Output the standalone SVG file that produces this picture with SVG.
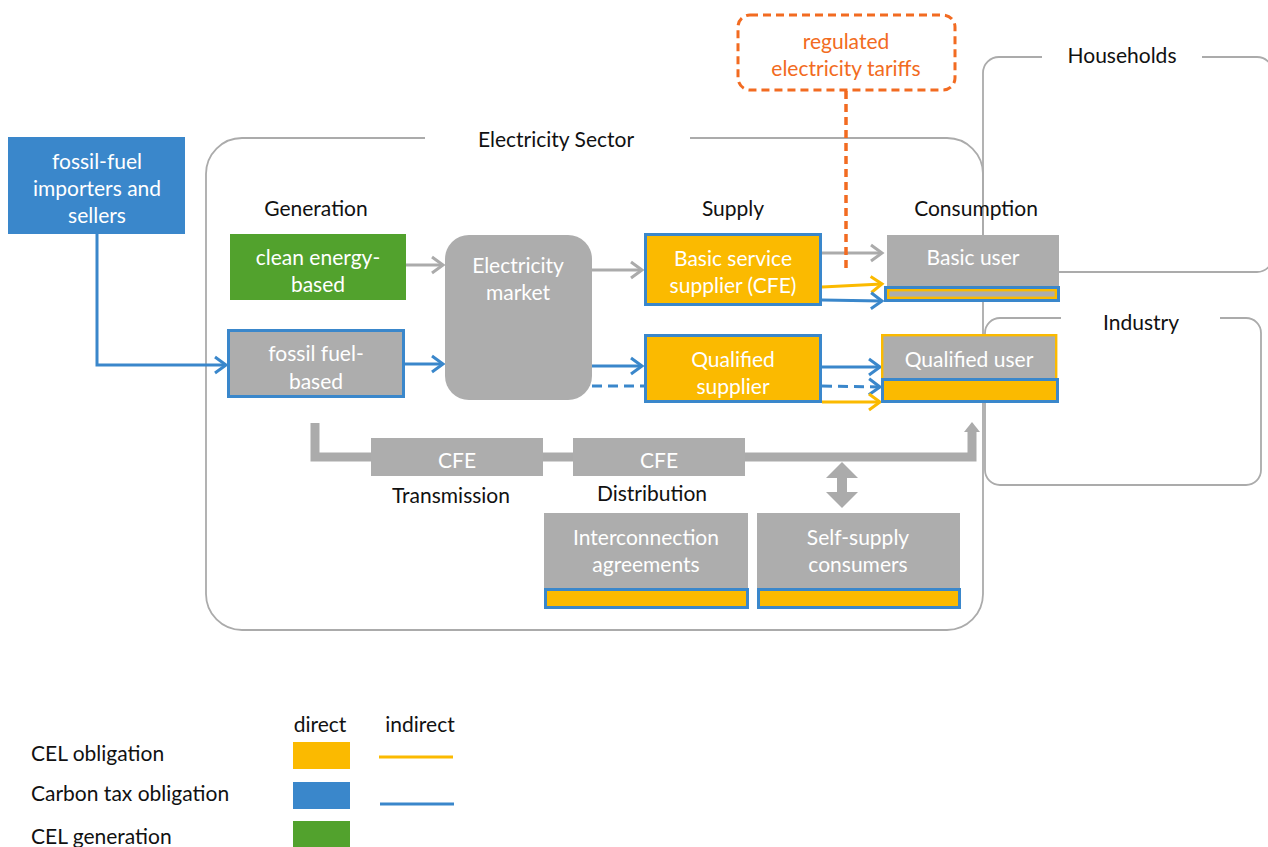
<svg xmlns="http://www.w3.org/2000/svg" width="1268" height="847" viewBox="0 0 1268 847">
<style>
text{font-family:Lato,"Liberation Sans",sans-serif;font-size:21px;text-anchor:middle;dominant-baseline:central}
.w{fill:#fff}
.k{fill:#111}
.o{fill:#F26B21}
.frame{fill:none;stroke:#ABABAB;stroke-width:1.8}
.gray{fill:#ADADAD}
.blueb{stroke:#3A87CB;stroke-width:3}
.yel{fill:#FBBA00}
.c{fill:none;stroke-width:3}
.cg{stroke:#ABABAB}
.cb{stroke:#3A87CB}
.cy{stroke:#FBBA00}
.lt{text-anchor:start}
</style>
<defs>
<marker id="ag" markerUnits="userSpaceOnUse" markerWidth="16" markerHeight="20" refX="13" refY="10" orient="auto"><path d="M2,2 L13,10 L2,18" fill="none" stroke="#ABABAB" stroke-width="3"/></marker>
<marker id="ab" markerUnits="userSpaceOnUse" markerWidth="16" markerHeight="20" refX="13" refY="10" orient="auto"><path d="M2,2 L13,10 L2,18" fill="none" stroke="#3A87CB" stroke-width="3"/></marker>
<marker id="ay" markerUnits="userSpaceOnUse" markerWidth="16" markerHeight="20" refX="13" refY="10" orient="auto"><path d="M2,2 L13,10 L2,18" fill="none" stroke="#FBBA00" stroke-width="3"/></marker>
</defs>
<rect width="1268" height="847" fill="#fff"/>

<g id="households-frame">
<rect class="frame" x="983" y="57" width="290" height="215" rx="16"/>
<rect x="1042" y="50" width="160" height="14" fill="#fff"/>
<text class="k" x="1122" y="54">Households</text>
</g>
<g id="industry-frame">
<rect class="frame" x="985" y="318" width="276" height="167" rx="15"/>
<rect x="1061" y="311" width="159" height="14" fill="#fff"/>
<text class="k" x="1141" y="321">Industry</text>
</g>
<g id="electricity-sector">
<rect class="frame" x="206" y="138" width="777" height="492" rx="36"/>
<rect x="425" y="131" width="265" height="14" fill="#fff"/>
<text class="k" x="556" y="138">Electricity Sector</text>
</g>

<g id="labels">
<text class="k" x="316" y="207">Generation</text>
<text class="k" x="733" y="207">Supply</text>
<text class="k" x="976" y="207">Consumption</text>
<text class="k" x="451" y="494">Transmission</text>
<text class="k" x="652" y="492">Distribution</text>
</g>

<g id="connectors">
<line class="c cg" x1="405" y1="265" x2="443" y2="265" marker-end="url(#ag)"/>
<line class="c cb" x1="404" y1="364" x2="443" y2="364" marker-end="url(#ab)"/>
<path class="c cb" d="M97,234 V365 H226" marker-end="url(#ab)"/>
<line class="c cg" x1="592" y1="270" x2="642" y2="270" marker-end="url(#ag)"/>
<line class="c cb" x1="592" y1="366" x2="642" y2="366" marker-end="url(#ab)"/>
<line class="c cb" x1="592" y1="386" x2="645" y2="386" stroke-dasharray="10,6"/>
<line class="c cg" x1="822" y1="253" x2="882" y2="253" marker-end="url(#ag)"/>
<line class="c cy" x1="822" y1="287" x2="882" y2="284" marker-end="url(#ay)"/>
<line class="c cb" x1="822" y1="300" x2="882" y2="301" marker-end="url(#ab)"/>
<line class="c cb" x1="822" y1="367" x2="880" y2="367" marker-end="url(#ab)"/>
<line class="c cb" x1="822" y1="386" x2="880" y2="387" stroke-dasharray="10,6" marker-end="url(#ab)"/>
<line class="c cy" x1="822" y1="402" x2="880" y2="402" marker-end="url(#ay)"/>
<line x1="846" y1="91" x2="846" y2="268" fill="none" stroke="#F26B21" stroke-width="3.5" stroke-dasharray="8,5"/>
<path d="M315,423 V457 H371 M543,457 H573 M745,457 H972 V430" fill="none" stroke="#ABABAB" stroke-width="9"/>
<polygon points="972,422 980,432 964,432" fill="#ABABAB"/>
<polygon points="842,462 858,478 847,478 847,492 858,492 842,508 826,492 837,492 837,478 826,478" fill="#ABABAB"/>
</g>

<g id="regulated-tariffs">
<rect x="738" y="15" width="217" height="75" rx="12" fill="#fff" stroke="#F26B21" stroke-width="3" stroke-dasharray="8,5"/>
<text class="o" x="846" y="40">regulated</text>
<text class="o" x="846" y="67">electricity tariffs</text>
</g>

<g id="importers">
<rect x="8" y="137" width="177" height="97" fill="#3A87CB"/>
<text class="w" x="97" y="160">fossil-fuel</text>
<text class="w" x="97" y="187">importers and</text>
<text class="w" x="97" y="214">sellers</text>
</g>

<g id="clean-energy">
<rect x="230" y="234" width="176" height="66" fill="#52A22D"/>
<text class="w" x="318" y="256">clean energy-</text>
<text class="w" x="318" y="283">based</text>
</g>

<g id="fossil-fuel">
<rect class="gray blueb" x="228.5" y="330.5" width="175" height="66"/>
<text class="w" x="316" y="352">fossil fuel-</text>
<text class="w" x="316" y="380">based</text>
</g>

<g id="electricity-market">
<rect class="gray" x="445" y="235" width="147" height="165" rx="24"/>
<text class="w" x="518" y="264">Electricity</text>
<text class="w" x="518" y="291">market</text>
</g>

<g id="basic-supplier">
<rect class="yel blueb" x="645.5" y="234.5" width="175" height="70"/>
<text class="w" x="733" y="257">Basic service</text>
<text class="w" x="733" y="284">supplier (CFE)</text>
</g>

<g id="qualified-supplier">
<rect class="yel blueb" x="645.5" y="335.5" width="175" height="66"/>
<text class="w" x="733" y="358">Qualified</text>
<text class="w" x="733" y="385">supplier</text>
</g>

<g id="basic-user">
<rect class="gray" x="887" y="235" width="172" height="51"/>
<rect x="885.5" y="287.5" width="173" height="13" fill="none" stroke="#3A87CB" stroke-width="3"/>
<rect x="888.2" y="290.2" width="167.6" height="7.6" fill="#ADADAD" stroke="#FBBA00" stroke-width="2.4"/>
<text class="w" x="973" y="256">Basic user</text>
</g>

<g id="qualified-user">
<rect class="gray" x="882.2" y="335.2" width="174" height="44" stroke="#FBBA00" stroke-width="2.4"/>
<rect class="yel blueb" x="882.5" y="379.5" width="175" height="22"/>
<text class="w" x="969" y="358">Qualified user</text>
</g>

<g id="transmission">
<rect class="gray" x="371" y="438" width="172" height="38"/>
<text class="w" x="457" y="459">CFE</text>
</g>
<g id="distribution">
<rect class="gray" x="573" y="438" width="172" height="38"/>
<text class="w" x="659" y="459">CFE</text>
</g>

<g id="interconnection">
<rect class="gray" x="544" y="513" width="204" height="75"/>
<rect class="yel blueb" x="545.5" y="589.5" width="202" height="18"/>
<text class="w" x="646" y="536">Interconnection</text>
<text class="w" x="646" y="563">agreements</text>
</g>
<g id="self-supply">
<rect class="gray" x="757" y="513" width="203" height="75"/>
<rect class="yel blueb" x="758.5" y="589.5" width="201" height="18"/>
<text class="w" x="858" y="536">Self-supply</text>
<text class="w" x="858" y="563">consumers</text>
</g>

<g id="legend">
<text class="k" x="320" y="723">direct</text>
<text class="k" x="420" y="723">indirect</text>
<text class="k lt" x="31" y="752">CEL obligation</text>
<text class="k lt" x="31" y="792">Carbon tax obligation</text>
<text class="k lt" x="31" y="835">CEL generation</text>
<rect x="293" y="742" width="57" height="27" fill="#FBBA00"/>
<rect x="293" y="782" width="57" height="27" fill="#3A87CB"/>
<rect x="293" y="821" width="57" height="27" fill="#52A22D"/>
<line x1="379" y1="757" x2="453" y2="757" stroke="#FBBA00" stroke-width="3"/>
<line x1="380" y1="804" x2="454" y2="804" stroke="#3A87CB" stroke-width="3"/>
</g>
</svg>
